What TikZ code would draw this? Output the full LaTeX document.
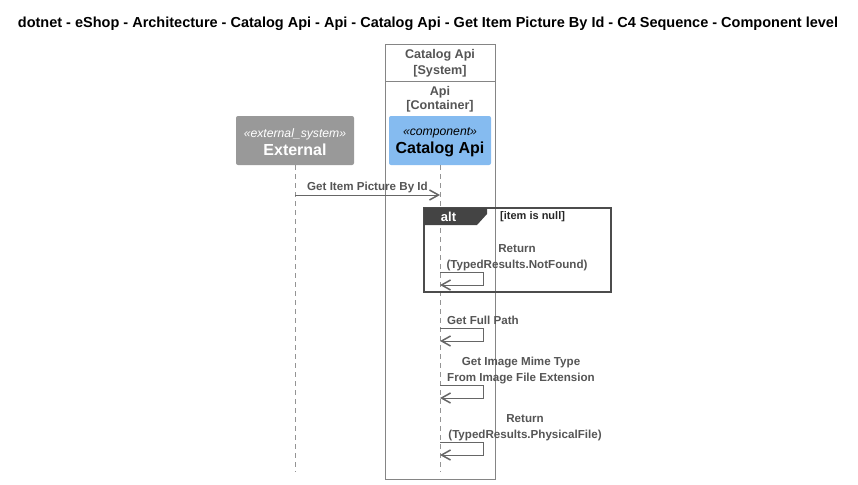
\documentclass[tikz,border=0pt]{standalone}
\usepackage{fontspec}
\setmainfont{Liberation Sans}
\usetikzlibrary{arrows.meta}
\definecolor{lngray}{HTML}{666666}
\definecolor{txgray}{HTML}{555555}
\definecolor{extgray}{HTML}{999999}
\definecolor{compblue}{HTML}{85BBF0}
\definecolor{altdark}{HTML}{444444}
\tikzset{
  lbl/.style={font=\bfseries\fontsize{11.6}{16}\selectfont, text=txgray, inner sep=0pt},
  part/.style={rounded corners=2pt, minimum height=49pt, inner sep=0pt},
  partlbl/.style={inner sep=0pt, align=center},
  life/.style={draw=lngray!70, dash pattern=on 5pt off 4pt, line width=0.6pt},
  msg/.style={draw=lngray, line width=1pt, -{Straight Barb[length=9pt,width=10pt,line width=1.5pt]}},
}
\begin{document}
\begin{tikzpicture}[x=1pt,y=-1pt]
\useasboundingbox (0,0) rectangle (858,484);
% title
\node[font=\bfseries\fontsize{14.5}{16}\selectfont, inner sep=0pt] (title) at (428,24) {dotnet - eShop - Architecture - Catalog Api - Api - Catalog Api - Get Item Picture By Id - C4 Sequence - Component level};
% system boundary
\draw[draw=lngray!80, line width=0.7pt] (385,44) rectangle (495,479);
\draw[draw=lngray!80, line width=0.7pt] (385,81) -- (495,81);
\node[lbl, font=\bfseries\fontsize{12.6}{16}\selectfont, align=center] (sys) at (440,63) {Catalog Api\\{[System]}};
\node[lbl, font=\bfseries\fontsize{12.6}{14}\selectfont, align=center] (cont) at (440,99) {Api\\{[Container]}};
% participants
\node[part, fill=extgray, minimum width=118pt] (ext) at (295,140.5) {};
\node[partlbl, text=white] (extlbl) at ([yshift=-2pt]ext.center) {{\itshape\fontsize{12.2}{14}\selectfont «external\_system»}\\[3pt]{\bfseries\fontsize{16}{18}\selectfont External}};
\node[part, fill=compblue, minimum width=102pt] (cat) at (440,140.5) {};
\node[partlbl, text=black] (catlbl) at ([yshift=-2pt]cat.center) {{\itshape\fontsize{12.2}{14}\selectfont «component»}\\[3pt]{\bfseries\fontsize{16}{18}\selectfont Catalog Api}};
% lifelines
\coordinate (extend) at (295,472);
\coordinate (catend) at (440,472);
\draw[life] (ext.south) -- (extend);
\draw[life] (cat.south) -- (catend);
% message 1
\coordinate (m1a) at (295,195);
\coordinate (m1b) at (440,195);
\draw[msg] (m1a) -- (m1b);
\node[lbl, anchor=west] (m1l) at (307,187) {Get Item Picture By Id};
% alt frame
\draw[draw=black!70, line width=1.2pt] (424,208) rectangle (611,292);
\fill[altdark] (424,208) -- (487,208) -- (487,214) -- (477,225) -- (424,225) -- cycle;
\node[font=\bfseries\fontsize{13}{15}\selectfont, text=white, inner sep=0pt] (alt) at (448.5,217) {alt};
\node[font=\bfseries\fontsize{11}{13}\selectfont, text=black!85, inner sep=0pt, anchor=west] (cond) at (500,217) {[item is null]};
% self messages
\newcommand{\selfmsg}[1]{%
  \draw[msg] (440,#1) -- (483,#1) -- (483,#1+13) -- (440,#1+13);
}
\node[lbl, align=center] (r1) at (517,258) {Return\\(TypedResults.NotFound)};
\selfmsg{272}
\node[lbl, anchor=west] (gfp) at (447,320) {Get Full Path};
\selfmsg{328}
\node[lbl, align=center] (gim) at (521,371) {Get Image Mime Type\\From Image File Extension};
\selfmsg{385}
\node[lbl, align=center] (r2) at (525,428) {Return\\(TypedResults.PhysicalFile)};
\selfmsg{442}
\end{tikzpicture}
\end{document}
